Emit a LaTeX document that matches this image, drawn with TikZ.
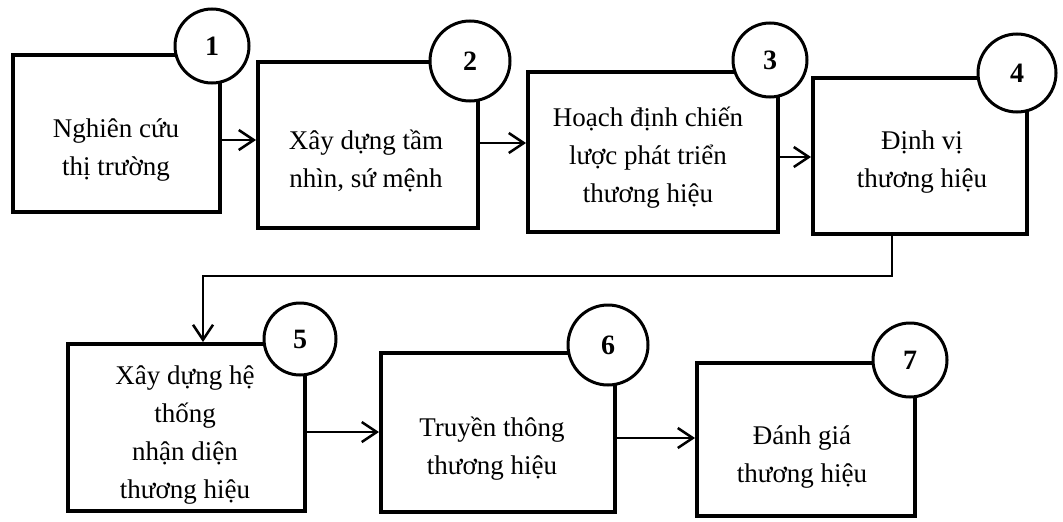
\documentclass[tikz,border=0pt]{standalone}
\usepackage{fontspec}
\setmainfont{Liberation Serif}
\usetikzlibrary{arrows.meta}
\begin{document}
\begin{tikzpicture}[x=1pt,y=-1pt,
  stagebox/.style={draw=black, line width=4pt, rectangle, inner sep=0pt},
  stagetext/.style={align=center, font=\fontsize{27}{38}\selectfont},
  badge/.style={draw=black, line width=3pt, circle, fill=white, inner sep=0pt,
    font=\fontsize{28}{28}\selectfont\bfseries},
  flow/.style={line width=2.5pt, -{Straight Barb[length=15pt,width=20pt,line width=2.5pt]}}]
\useasboundingbox (0,0) rectangle (1063,522);

% stage frames
\node[stagebox, minimum width=207pt, minimum height=157pt] (b1) at (116.5,133.5) {};
\node[stagebox, minimum width=220pt, minimum height=166pt] (b2) at (368,145) {};
\node[stagebox, minimum width=250pt, minimum height=160pt] (b3) at (653,152) {};
\node[stagebox, minimum width=214pt, minimum height=156pt] (b4) at (920,156) {};
\node[stagebox, minimum width=237pt, minimum height=167pt] (b5) at (186.5,427.5) {};
\node[stagebox, minimum width=234pt, minimum height=159pt] (b6) at (498,432.5) {};
\node[stagebox, minimum width=218pt, minimum height=153pt] (b7) at (806,439.5) {};

% stage titles
\node[stagetext] (t1) at (116,150) {Nghiên cứu\\thị trường};
\node[stagetext] (t2) at (366,161) {Xây dựng tầm\\nhìn, sứ mệnh};
\node[stagetext] (t3) at (648,158) {Hoạch định chiến\\lược phát triển\\thương hiệu};
\node[stagetext] (t4) at (922,162) {Định vị\\thương hiệu};
\node[stagetext] (t5) at (185,435) {Xây dựng hệ\\thống\\nhận diện\\thương hiệu};
\node[stagetext] (t6) at (492,449) {Truyền thông\\thương hiệu};
\node[stagetext] (t7) at (802,457) {Đánh giá\\thương hiệu};

% numbered badges on the top-right corners
\node[badge, minimum size=74pt] (c1) at (212,46) {1};
\node[badge, minimum size=80pt] (c2) at (470,61) {2};
\node[badge, minimum size=74pt] (c3) at (770,60) {3};
\node[badge, minimum size=78pt] (c4) at (1017,73) {4};
\node[badge, minimum size=72pt] (c5) at (300,339) {5};
\node[badge, minimum size=80pt] (c6) at (608,345) {6};
\node[badge, minimum size=74pt] (c7) at (910,360) {7};

% arrow rows
\coordinate (r12) at (0,140);
\coordinate (r23) at (0,143);
\coordinate (r34) at (0,157);
\coordinate (r56) at (0,432);
\coordinate (r67) at (0,438);
\coordinate (turn) at (203,276);

\draw[flow] (b1.east |- r12) -- (b2.west |- r12);
\draw[flow] (b2.east |- r23) -- (b3.west |- r23);
\draw[flow] (b3.east |- r34) -- (b4.west |- r34);
\draw[flow] ([xshift=-28pt]b4.south) |- (turn) -- (turn |- b5.north);
\draw[flow] (b5.east |- r56) -- (b6.west |- r56);
\draw[flow] (b6.east |- r67) -- (b7.west |- r67);
\end{tikzpicture}
\end{document}
